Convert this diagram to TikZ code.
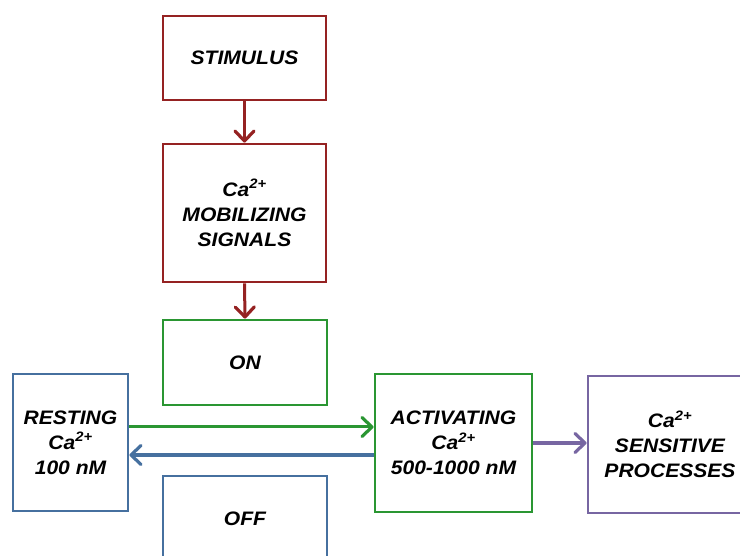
\documentclass[tikz,border=0pt]{standalone}
\usepackage{fontspec}
\setmainfont[FakeStretch=1.08]{Liberation Sans}
\usetikzlibrary{arrows.meta}
\definecolor{sigred}{HTML}{952222}
\definecolor{ongreen}{HTML}{2A9632}
\definecolor{offblue}{HTML}{46709F}
\definecolor{procpurple}{HTML}{7766A2}
\newcommand{\catwo}{Ca\textsuperscript{2+}}
\begin{document}
\begin{tikzpicture}[x=1pt,y=-1pt,
  box/.style={draw,line width=2.8pt,align=center,inner sep=0pt,
    font=\fontsize{19.5}{25}\selectfont\bfseries\itshape},
  link/.style={line width=3pt,-{Straight Barb[length=10pt,width=19pt,line width=3.2pt,round]}}]
\useasboundingbox (0,0) rectangle (740,556);
\clip (0,0) rectangle (740,556);
% signalling chain
\node[box,draw=sigred,minimum width=163pt,minimum height=84pt] (stim) at (244.5,58) {STIMULUS};
\node[box,draw=sigred,minimum width=163pt,minimum height=138pt] (mob) at (244.5,213) {\catwo\\MOBILIZING\\SIGNALS};
\node[box,draw=ongreen,minimum width=164pt,minimum height=85pt] (on) at (245,362.5) {ON};
\node[box,draw=offblue,minimum width=164pt,minimum height=86pt] (off) at (245,519) {OFF};
% calcium states
\node[box,draw=offblue,minimum width=115pt,minimum height=137pt] (rest) at (70.5,442.5) {RESTING\\\catwo\\100 nM};
\node[box,draw=ongreen,minimum width=157pt,minimum height=138pt] (act) at (453.5,443) {ACTIVATING\\\catwo\\500-1000 nM};
\node[box,draw=procpurple,minimum width=164pt,minimum height=137pt] (sens) at (670,444.5) {\catwo\\SENSITIVE\\PROCESSES};
% connectors
\draw[link,sigred] (stim.south) -- (mob.north);
\draw[link,sigred] (mob.south) -- (on.north);
\draw[link,ongreen] ([yshift=15.5pt]rest.east) -- ([yshift=15.5pt]rest.east -| act.west);
\draw[link,offblue] ([yshift=-12.5pt]rest.east -| act.west) -- ([yshift=-12.5pt]rest.east);
\draw[link,procpurple,line width=3.5pt] (act.east) -- (act.east -| sens.west);
\end{tikzpicture}
\end{document}
